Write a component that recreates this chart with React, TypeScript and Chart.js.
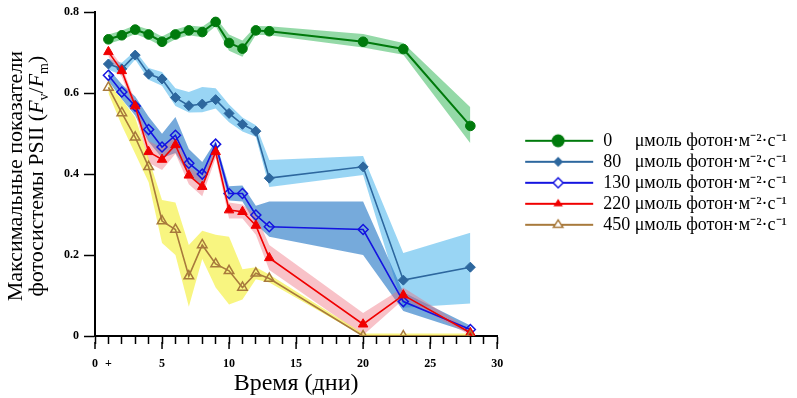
import React, { useEffect, useRef } from 'react';
import { Chart, registerables } from 'chart.js';

Chart.register(...registerables);

// ---- data ----
const days = [1, 2, 3, 4, 5, 6, 7, 8, 9, 10, 11, 12, 13, 20, 23, 28];
const legendValues = ['0', '80', '130', '220', '450'];
const legendPads = ['0     ', '80   ', '130 ', '220 ', '450 '];
const unitLabel = 'μмоль фотон·м⁻²·с⁻¹';
const yTickValues = [0, 0.2, 0.4, 0.6, 0.8];
const xMajorTicks = [0, 5, 10, 15, 20, 25, 30];

const s0 = [0.733, 0.743, 0.757, 0.745, 0.727, 0.745, 0.755, 0.751, 0.776, 0.724, 0.710, 0.755, 0.753, 0.727, 0.709, 0.519];
const s0Hi = [0.745, 0.755, 0.768, 0.757, 0.740, 0.757, 0.767, 0.764, 0.787, 0.745, 0.730, 0.766, 0.765, 0.746, 0.724, 0.565];
const s0Lo = [0.722, 0.732, 0.746, 0.733, 0.715, 0.733, 0.743, 0.738, 0.765, 0.705, 0.690, 0.744, 0.743, 0.713, 0.695, 0.476];

const s80 = [0.672, 0.660, 0.694, 0.647, 0.635, 0.589, 0.569, 0.573, 0.584, 0.550, 0.523, 0.506, 0.390, 0.418, 0.138, 0.170];
const s80Hi = [0.685, 0.675, 0.705, 0.662, 0.652, 0.612, 0.603, 0.615, 0.612, 0.572, 0.540, 0.521, 0.435, 0.445, 0.205, 0.255];
const s80Lo = [0.658, 0.645, 0.683, 0.633, 0.618, 0.568, 0.552, 0.553, 0.562, 0.528, 0.505, 0.492, 0.368, 0.398, 0.070, 0.080];

const s130 = [0.644, 0.603, 0.568, 0.510, 0.467, 0.496, 0.427, 0.400, 0.474, 0.352, 0.352, 0.299, 0.270, 0.263, 0.085, 0.016];
const s130Hi = [0.660, 0.622, 0.592, 0.542, 0.500, 0.541, 0.462, 0.430, 0.482, 0.370, 0.372, 0.322, 0.332, 0.332, 0.108, 0.026];
const s130Lo = [0.630, 0.585, 0.545, 0.480, 0.440, 0.452, 0.398, 0.372, 0.462, 0.335, 0.332, 0.276, 0.245, 0.200, 0.062, 0.008];

const s220 = [0.702, 0.655, 0.568, 0.455, 0.436, 0.472, 0.397, 0.369, 0.455, 0.311, 0.307, 0.273, 0.193, 0.029, 0.101, 0.008];
const s220Hi = [0.712, 0.668, 0.580, 0.482, 0.465, 0.492, 0.420, 0.392, 0.470, 0.330, 0.325, 0.300, 0.225, 0.057, 0.120, 0.015];
const s220Lo = [0.690, 0.640, 0.555, 0.428, 0.410, 0.450, 0.375, 0.345, 0.440, 0.290, 0.290, 0.250, 0.163, 0.002, 0.090, 0.002];

const s450 = [0.614, 0.551, 0.491, 0.418, 0.284, 0.263, 0.148, 0.225, 0.178, 0.161, 0.120, 0.155, 0.142, 0, 0, 0];
const s450Hi = [0.625, 0.585, 0.540, 0.440, 0.336, 0.330, 0.225, 0.260, 0.250, 0.245, 0.165, 0.170, 0.152, 0.006, 0.006, 0.006];
const s450Lo = [0.600, 0.520, 0.450, 0.380, 0.230, 0.200, 0.072, 0.190, 0.120, 0.078, 0.090, 0.140, 0.132, 0, 0, 0];

// ---- styles ----
const SERIF = '"Liberation Serif", "Times New Roman", serif';

type Style = {
  color: string;
  band: string;
  shape: 'circle' | 'rectRot' | 'triangle';
  radius: number;
  legendRadius: number;
  filled: boolean;
  lineWidth: number;
};

const styles: Style[] = [
  { color: '#007a0c', band: 'rgba(60,185,95,0.55)', shape: 'circle', radius: 4.8, legendRadius: 6.5, filled: true, lineWidth: 2 },
  { color: '#2d679e', band: 'rgba(110,195,240,0.7)', shape: 'rectRot', radius: 5, legendRadius: 5, filled: true, lineWidth: 1.6 },
  { color: '#1414e0', band: 'rgba(45,125,200,0.65)', shape: 'rectRot', radius: 5, legendRadius: 5, filled: false, lineWidth: 1.6 },
  { color: '#f00000', band: 'rgba(238,110,125,0.42)', shape: 'triangle', radius: 5.5, legendRadius: 5, filled: true, lineWidth: 1.6 },
  { color: '#a87a3c', band: 'rgba(245,240,60,0.65)', shape: 'triangle', radius: 5.5, legendRadius: 5, filled: false, lineWidth: 1.6 },
];

const seriesVals = [s0, s80, s130, s220, s450];
const seriesHi = [s0Hi, s80Hi, s130Hi, s220Hi, s450Hi];
const seriesLo = [s0Lo, s80Lo, s130Lo, s220Lo, s450Lo];
const bandOrder = [1, 2, 3, 4, 0]; // light blue bottom ... green top

const pts = (arr: number[]) => arr.map((v, i) => ({ x: days[i], y: v }));

const LEGEND_IMG_W = 94;

function drawShape(ctx: CanvasRenderingContext2D, shape: string, x: number, y: number, r: number, color: string, filled: boolean) {
  ctx.beginPath();
  if (shape === 'circle') {
    ctx.arc(x, y, r, 0, Math.PI * 2);
  } else if (shape === 'rectRot') {
    ctx.moveTo(x, y - r);
    ctx.lineTo(x + r, y);
    ctx.lineTo(x, y + r);
    ctx.lineTo(x - r, y);
    ctx.closePath();
  } else {
    const h = r * 1.5;
    ctx.moveTo(x, y - h * 0.66);
    ctx.lineTo(x + r * 0.95, y + h * 0.34);
    ctx.lineTo(x - r * 0.95, y + h * 0.34);
    ctx.closePath();
  }
  if (filled) {
    ctx.fillStyle = color;
    ctx.fill();
  } else {
    ctx.fillStyle = '#fff';
    ctx.fill();
    ctx.lineWidth = 1.5;
    ctx.strokeStyle = color;
    ctx.stroke();
  }
}

function makeLegendImage(s: Style): HTMLCanvasElement {
  const c = document.createElement('canvas');
  c.width = LEGEND_IMG_W;
  c.height = 16;
  const ctx = c.getContext('2d')!;
  ctx.strokeStyle = s.color;
  ctx.lineWidth = 2;
  ctx.beginPath();
  ctx.moveTo(25, 8);
  ctx.lineTo(93, 8);
  ctx.stroke();
  drawShape(ctx, s.shape, 58, 8, s.legendRadius, s.color, s.filled);
  return c;
}

const yTitlePlugin = {
  id: 'yTitle',
  afterDraw(chart: any) {
    const ctx: CanvasRenderingContext2D = chart.ctx;
    const area = chart.chartArea;
    const cy = (area.top + area.bottom) / 2 + 2;
    ctx.save();
    ctx.fillStyle = '#000';
    ctx.textBaseline = 'alphabetic';
    ctx.save();
    ctx.translate(22, cy);
    ctx.rotate(-Math.PI / 2);
    ctx.font = `22px ${SERIF}`;
    ctx.textAlign = 'center';
    ctx.fillText('Максимальные показатели', 0, 0);
    ctx.restore();
    const segs = [
      { t: 'фотосистемы PSII (', f: `22px ${SERIF}`, dy: 0 },
      { t: 'F', f: `italic 22px ${SERIF}`, dy: 0 },
      { t: 'v', f: `14px ${SERIF}`, dy: 5 },
      { t: '/', f: `22px ${SERIF}`, dy: 0 },
      { t: 'F', f: `italic 22px ${SERIF}`, dy: 0 },
      { t: 'm', f: `14px ${SERIF}`, dy: 5 },
      { t: ')', f: `22px ${SERIF}`, dy: 0 },
    ];
    let total = 0;
    const widths = segs.map((s) => {
      ctx.font = s.f;
      const w = ctx.measureText(s.t).width;
      total += w;
      return w;
    });
    ctx.save();
    ctx.translate(43, cy);
    ctx.rotate(-Math.PI / 2);
    ctx.textAlign = 'left';
    let x = -total / 2;
    segs.forEach((s, i) => {
      ctx.font = s.f;
      ctx.fillText(s.t, x, s.dy);
      x += widths[i];
    });
    ctx.restore();
    ctx.restore();
  },
};

const majorTickPlugin = {
  id: 'majorTicks',
  afterDraw(chart: any) {
    const ctx: CanvasRenderingContext2D = chart.ctx;
    const xs = chart.scales.x;
    const bottom = chart.chartArea.bottom;
    ctx.save();
    ctx.strokeStyle = '#000';
    ctx.lineWidth = 1.5;
    xMajorTicks.forEach((v) => {
      const px = xs.getPixelForValue(v);
      ctx.beginPath();
      ctx.moveTo(px, bottom + 6);
      ctx.lineTo(px, bottom + 13);
      ctx.stroke();
    });
    ctx.restore();
  },
};

export default function App() {
  const ref = useRef<HTMLCanvasElement | null>(null);

  useEffect(() => {
    document.body.style.margin = '0';
    const canvas = ref.current;
    if (!canvas) return;

    const lineSets = styles.map((s, i) => ({
      label: legendValues[i],
      data: pts(seriesVals[i]),
      borderColor: s.color,
      backgroundColor: s.filled ? s.color : 'rgba(0,0,0,0)',
      pointBorderColor: s.color,
      pointBackgroundColor: s.filled ? s.color : 'rgba(0,0,0,0)',
      pointStyle: s.shape,
      pointRadius: s.radius,
      pointBorderWidth: s.filled ? 1 : 1.5,
      borderWidth: s.lineWidth,
      tension: 0,
      fill: false,
      order: 5 - i,
    }));

    const bandSets: any[] = [];
    bandOrder.forEach((si, k) => {
      const s = styles[si];
      bandSets.push({
        label: `band-hi-${si}`,
        data: pts(seriesHi[si]),
        borderWidth: 0,
        borderColor: 'rgba(0,0,0,0)',
        backgroundColor: s.band,
        pointRadius: 0,
        tension: 0,
        fill: '+1',
        order: 100 - k,
      });
      bandSets.push({
        label: `band-lo-${si}`,
        data: pts(seriesLo[si]),
        borderWidth: 0,
        borderColor: 'rgba(0,0,0,0)',
        backgroundColor: 'rgba(0,0,0,0)',
        pointRadius: 0,
        tension: 0,
        fill: false,
        order: 100 - k,
      });
    });

    const legendImages = styles.map(makeLegendImage);

    const chart = new Chart(canvas, {
      type: 'line',
      data: { datasets: [...lineSets, ...bandSets] as any },
      options: {
        animation: false,
        responsive: false,
        maintainAspectRatio: false,
        layout: { padding: { top: 12, right: 0, left: 0, bottom: 0 } },
        font: { family: SERIF },
        plugins: {
          tooltip: { enabled: false },
          legend: {
            position: 'right',
            align: 'start',
            maxWidth: 300,
            title: { display: true, text: '', padding: { top: 100, bottom: 0 }, font: { size: 14 } },
            labels: {
              usePointStyle: true,
              pointStyleWidth: LEGEND_IMG_W,
              padding: 3,
              color: '#000',
              font: { family: SERIF, size: 18 },
              generateLabels: () =>
                styles.map((s, i) => ({
                  text: legendPads[i] + unitLabel,
                  fillStyle: s.color,
                  strokeStyle: s.color,
                  lineWidth: 0,
                  pointStyle: legendImages[i] as any,
                  hidden: false,
                  datasetIndex: i,
                  fontColor: '#000',
                })),
            },
          },
        },
        scales: {
          x: {
            type: 'linear',
            min: 0,
            max: 30,
            border: { display: true, color: '#000', width: 2 },
            grid: { display: true, drawOnChartArea: false, drawTicks: true, tickLength: 8, tickColor: '#000', tickWidth: 1.5 },
            ticks: {
              stepSize: 1,
              autoSkip: false,
              maxRotation: 0,
              padding: 13,
              color: '#000',
              font: { family: SERIF, size: 12, weight: 'bold' },
              callback: (v: any) => {
                const n = Number(v);
                if (n % 5 === 0) return String(n);
                if (n === 1) return '+';
                return '';
              },
            },
            title: {
              display: true,
              text: 'Время (дни)',
              color: '#000',
              font: { family: SERIF, size: 24 },
              padding: { top: 0, bottom: 0 },
            },
            afterFit: (s: any) => {
              s.height = 62;
            },
          },
          y: {
            type: 'linear',
            min: 0,
            max: 0.8,
            border: { display: true, color: '#000', width: 2 },
            grid: { display: true, drawOnChartArea: false, drawTicks: true, tickLength: 11, tickColor: '#000', tickWidth: 1.5 },
            afterBuildTicks: (s: any) => {
              s.ticks = yTickValues.map((v) => ({ value: v }));
            },
            ticks: {
              padding: 5,
              color: '#000',
              font: { family: SERIF, size: 12, weight: 'bold' },
              callback: (v: any) => (Number(v) === 0 ? '0' : Number(v).toFixed(1)),
            },
            afterFit: (s: any) => {
              s.width = 95;
            },
          },
        },
      } as any,
      plugins: [yTitlePlugin, majorTickPlugin],
    });

    return () => chart.destroy();
  }, []);

  return (
    <div style={{ width: 797, height: 398, position: 'relative', background: '#fff' }}>
      <canvas ref={ref} width={797} height={398} style={{ display: 'block', width: 797, height: 398 }} />
    </div>
  );
}
